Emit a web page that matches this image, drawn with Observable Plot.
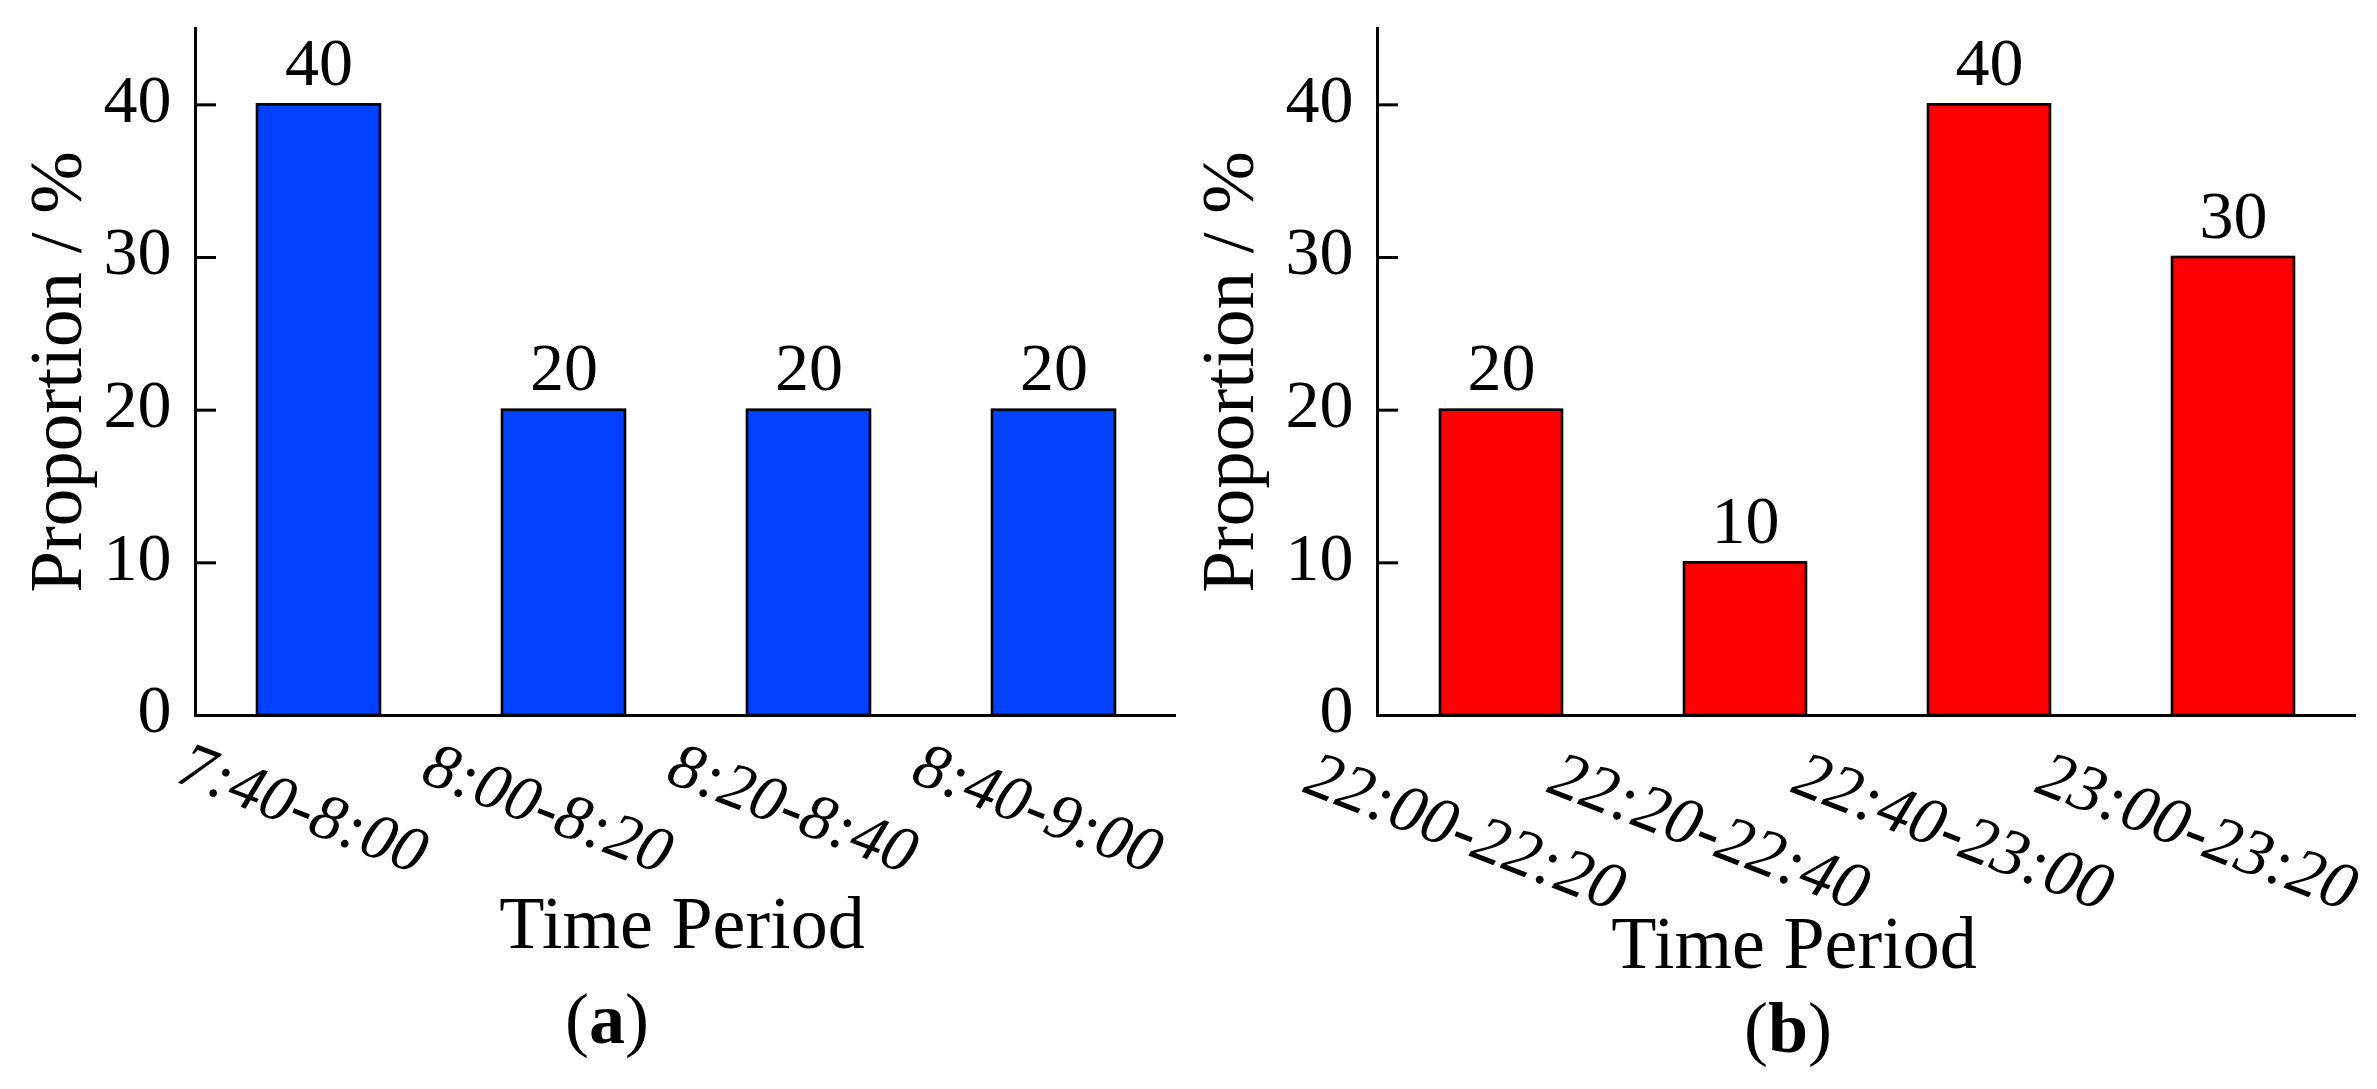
<!DOCTYPE html>
<html><head><meta charset="utf-8">
<script src="https://cdn.jsdelivr.net/npm/d3@7"></script>
<script src="https://cdn.jsdelivr.net/npm/@observablehq/plot@0.6"></script>
<style>
body{margin:0;background:#fff;}
#wrap{position:relative;width:2377px;height:1089px;overflow:hidden;font-family:'Liberation Serif',serif;background:#fff;}
.panel{position:absolute;top:0;}
.cap{position:absolute;font-size:72px;line-height:72px;white-space:nowrap;transform:translateX(-50%);color:#000;}
.cap b{font-weight:bold;}
</style></head><body>
<div id="wrap"></div>
<script>
const periodsA = ["7:40-8:00", "8:00-8:20", "8:20-8:40", "8:40-9:00"];
const valuesA = [40, 20, 20, 20];
const periodsB = ["22:00-22:20", "22:20-22:40", "22:40-23:00", "23:00-23:20"];
const valuesB = [20, 10, 40, 30];
const yTicks = [0, 10, 20, 30, 40];
const yDomain = [0, 45];
const yLabel = "Proportion / %";
const xLabel = "Time Period";
const captionLetters = ["a", "b"];
const colorA = "#0040ff";
const colorB = "#ff0000";

function panel(o) {
  const data = o.periods.map((p, i) => ({period: p, value: o.values[i]}));
  return Plot.plot({
    width: o.width, height: 1089,
    marginLeft: o.marginLeft, marginRight: o.marginRight, marginTop: 28, marginBottom: 374,
    style: {fontFamily: "'Liberation Serif', serif", background: "white", color: "black", overflow: "visible"},
    x: {domain: o.periods, paddingInner: 0.5, paddingOuter: 0.25, axis: null},
    y: {domain: yDomain},
    marks: [
      Plot.barY(data, {x: "period", y: "value", fill: o.color, stroke: "black", strokeWidth: 2.6}),
      Plot.axisY({ticks: yTicks, tickSize: 21, dx: 21, fill: "none", strokeWidth: 3, label: null}),
      Plot.axisY({ticks: yTicks, tickSize: 0, tickPadding: 24, fontSize: 68, dy: -5, label: null}),
      Plot.frame({anchor: "left", strokeWidth: 3}),
      Plot.ruleY([0], {strokeWidth: 3}),
      Plot.text(data, {x: "period", y: "value", text: d => String(d.value), dy: -20, lineAnchor: "bottom", fontSize: 68}),
      Plot.text(data, {x: "period", text: "period", frameAnchor: "bottom", textAnchor: "middle", lineAnchor: "middle", dx: o.tickDx, dy: o.tickDy, rotate: 21, fontStyle: "italic", fontSize: o.tickFont}),
      Plot.text([xLabel], {frameAnchor: "bottom", textAnchor: "middle", dx: o.xLabelDx, dy: o.xLabelDy, lineAnchor: "bottom", fontSize: 74}),
      Plot.text([yLabel], {frameAnchor: "left", textAnchor: "middle", dx: o.yLabelDx, rotate: -90, lineAnchor: "bottom", fontSize: 75})
    ]
  });
}

const wrap = document.getElementById("wrap");
const panels = [
  {periods: periodsA, values: valuesA, color: colorA, left: 0, width: 1188, marginLeft: 195, marginRight: 12,
   tickDx: -16, tickDy: 93, tickFont: 65, xLabelDx: -4, xLabelDy: 232, yLabelDx: -115, capX: 607, capTop: 983},
  {periods: periodsB, values: valuesB, color: colorB, left: 1188, width: 1189, marginLeft: 189, marginRight: 21,
   tickDx: -36, tickDy: 116, tickFont: 67, xLabelDx: -73, xLabelDy: 252, yLabelDx: -125, capX: 1788, capTop: 992}
];
panels.forEach((o, i) => {
  const div = document.createElement("div");
  div.className = "panel";
  div.style.left = o.left + "px";
  div.style.width = o.width + "px";
  div.appendChild(panel(o));
  wrap.appendChild(div);
  const cap = document.createElement("div");
  cap.className = "cap";
  cap.style.left = o.capX + "px";
  cap.style.top = o.capTop + "px";
  cap.append("(");
  const b = document.createElement("b");
  b.textContent = captionLetters[i];
  cap.append(b);
  cap.append(")");
  wrap.appendChild(cap);
});
</script>
</body></html>
